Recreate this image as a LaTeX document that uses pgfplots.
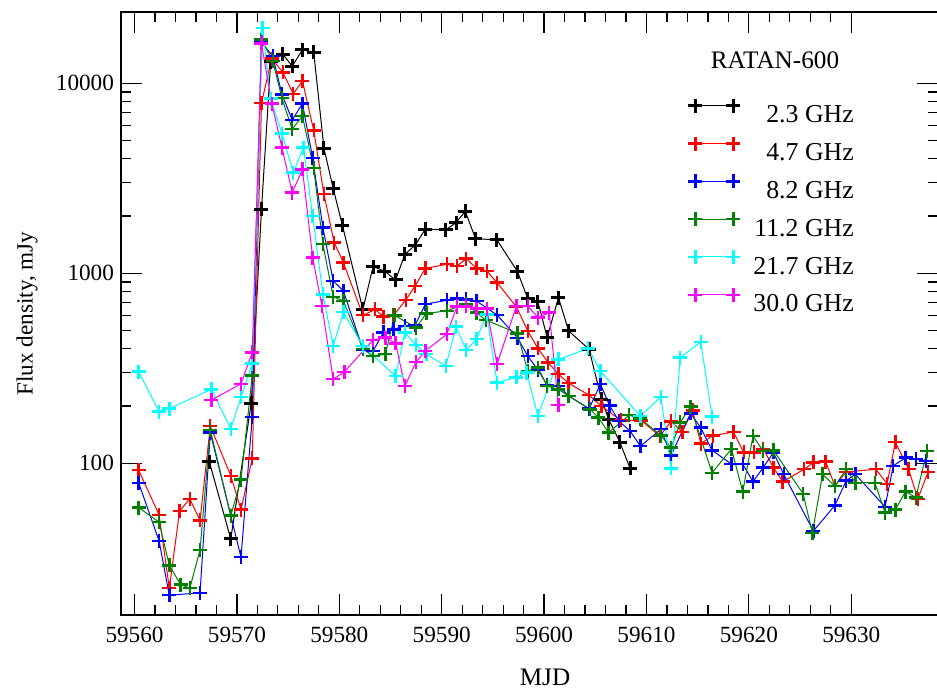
\documentclass[border=0pt]{standalone}
\usepackage{fontspec}
\setmainfont{Liberation Serif}
\usepackage{pgfplots}
\pgfplotsset{compat=1.18}
\definecolor{dgreen}{RGB}{0,128,0}
\definecolor{cyn}{RGB}{0,255,255}
\definecolor{mag}{RGB}{255,0,255}
\newcommand{\ff}{\fontsize{11.6}{14}\selectfont}
\newcommand{\fl}{\fontsize{12.6}{15}\selectfont}
\newcommand{\fg}{\fontsize{12.9}{15}\selectfont}
\begin{document}
\begin{tikzpicture}
\begin{axis}[
  scale only axis,
  width=408.5pt, height=301.5pt,
  xmin=59558.68, xmax=59638.47,
  ymode=log, ymin=15.9, ymax=23730,
  scaled x ticks=false,
  xtick={59560,59570,59580,59590,59600,59610,59620,59630},
  xticklabels={59560,59570,59580,59590,59600,59610,59620,59630},
  minor x tick num=4,
  ytick={100,1000,10000},
  yticklabels={100,1000,10000},
  /pgf/number format/assume math mode=true,
  tick label style={font=\ff},
  xticklabel style={yshift=-2.5pt},
  major tick length=10.5pt,
  minor tick length=5pt,
  axis line style={line width=0.75pt},
  every tick/.style={line width=0.6pt, black},
  xlabel={MJD},
  ylabel={Flux density, mJy},
  xlabel style={font=\fl, at={(axis description cs:0.519,-0.103)}, anchor=center},
  ylabel style={font=\ff, at={(axis description cs:-0.115,0.5)}, anchor=center},
  legend style={draw=none, fill=none, at={(axis description cs:0.6928,0.8632)}, anchor=north west,
    inner sep=0pt, row sep=0pt, font=\fg,
    nodes={inner sep=0pt, text height=14pt, text depth=4.9pt},
    /tikz/every odd column/.append style={column sep=6pt}},
  legend cell align=right,
  legend image code/.code={\path[draw=none,fill=none] (-4pt,0pt) rectangle (23pt,8pt); \draw[#1,overlay] plot coordinates {(0pt,4pt) (19pt,4pt)};},
  every axis plot/.append style={line width=0.5pt, mark=+, mark size=3.5pt, mark options={line width=1.2pt, solid}},
]
\addplot[black, mark options={line width=1.5pt}] coordinates {
(59567.3,102) (59569.4,40) (59571.4,207) (59572.4,2170) (59573.3,13000) (59574.5,14200)
(59575.4,12300) (59576.4,15000) (59577.5,14600) (59578.5,4550) (59579.4,2800) (59580.3,1790)
(59582.3,645) (59583.3,1084) (59584.4,1028) (59585.5,922) (59586.4,1259) (59587.4,1404)
(59588.4,1707) (59590.4,1692) (59591.4,1848) (59592.3,2118) (59593.3,1523) (59595.4,1497)
(59597.4,1021) (59598.4,736) (59599.4,707) (59600.3,460) (59601.4,745) (59602.4,497)
(59604.4,398) (59605.6,217) (59606.3,171) (59607.4,129) (59608.4,94)
};
\addlegendentry{2.3 GHz}
\addplot[red] coordinates {
(59560.4,92) (59562.4,53.5) (59563.4,22) (59564.4,56) (59565.4,65) (59566.4,50) (59567.4,157)
(59569.4,86) (59570.4,57) (59571.5,106) (59572.4,7870) (59573.4,13500) (59574.5,11400)
(59575.5,8800) (59576.4,10300) (59577.5,5650) (59578.5,2610) (59579.5,1451) (59580.4,1138)
(59582.3,601) (59583.5,645) (59584.3,592) (59585.3,601) (59586.5,725) (59587.4,857)
(59588.4,1062) (59590.5,1115) (59591.5,1092) (59592.4,1194) (59593.4,1062) (59594.4,1028)
(59595.4,894) (59597.3,665) (59598.4,497) (59599.4,402) (59600.4,339) (59601.4,294)
(59602.4,264) (59604.4,228) (59605.6,200) (59607.5,168) (59609.5,168) (59611.3,139)
(59612.4,166) (59613.5,146) (59614.5,190) (59615.3,127) (59616.5,140) (59618.5,146)
(59619.5,114) (59620.5,114) (59621.4,119) (59622.4,95) (59623.3,80) (59625.4,93)
(59626.3,101) (59627.5,102) (59628.4,76) (59629.5,90) (59632.4,93) (59633.5,78)
(59634.3,129) (59635.6,93) (59636.5,65) (59637.5,90)
};
\addlegendentry{4.7 GHz}
\addplot[blue] coordinates {
(59560.4,79) (59562.4,39) (59563.4,20.2) (59566.4,20.8) (59567.4,145) (59569.4,53)
(59570.4,32) (59571.5,175) (59572.4,16400) (59573.5,13900) (59574.4,8750) (59575.4,6410)
(59576.4,7820) (59577.4,4030) (59578.4,1738) (59579.4,911) (59580.4,808) (59582.3,398)
(59583.3,390) (59584.3,488) (59585.3,507) (59586.4,528) (59587.4,532) (59588.4,688)
(59590.5,721) (59591.5,736) (59592.4,729) (59593.4,714) (59595.4,604) (59597.4,458)
(59598.4,367) (59599.4,310) (59600.3,258) (59601.4,255) (59602.4,226) (59604.4,194)
(59605.5,261) (59606.4,201) (59607.3,167) (59608.4,148) (59609.4,123) (59611.4,151)
(59612.4,110) (59614.3,183) (59615.3,154) (59616.4,117) (59618.3,99) (59619.4,99)
(59620.4,80) (59621.4,95) (59622.4,114) (59623.4,87.5) (59626.3,44) (59628.4,60)
(59629.5,81) (59630.4,87.5) (59633.3,59) (59634.1,97) (59635.3,107) (59636.3,105) (59637.3,103)
};
\addlegendentry{8.2 GHz}
\addplot[dgreen] coordinates {
(59560.4,58.5) (59562.4,49) (59563.4,29) (59564.5,23) (59565.4,22) (59566.4,35) (59567.4,150)
(59569.4,53) (59570.4,82) (59571.5,290) (59572.4,17000) (59573.5,13100) (59574.4,8340)
(59575.4,5730) (59576.4,6730) (59577.5,3570) (59578.4,1422) (59579.4,752) (59580.4,714)
(59582.3,400) (59583.3,367) (59584.5,375) (59585.4,600) (59587.5,518) (59588.5,615)
(59590.5,634) (59591.5,664) (59592.4,690) (59593.4,621) (59594.3,568) (59597.4,483)
(59598.4,306) (59599.4,319) (59600.3,255) (59601.4,245) (59602.4,226) (59604.5,192)
(59605.3,174) (59606.3,145) (59608.3,179) (59609.4,172) (59611.4,140) (59612.4,121)
(59613.3,164) (59614.3,199) (59616.4,89) (59618.3,119) (59619.4,71) (59620.4,139)
(59621.4,116) (59622.4,117) (59625.3,69) (59626.2,43) (59627.2,87.5) (59628.4,76)
(59629.5,93) (59630.4,79) (59632.3,79) (59633.3,55) (59634.3,57) (59635.3,71) (59636.3,66) (59637.4,116)
};
\addlegendentry{11.2 GHz}
\addplot[cyn] coordinates {
(59560.4,304) (59562.4,187) (59563.4,194) (59567.5,245) (59569.4,152) (59570.4,223)
(59571.5,335) (59572.5,19600) (59573.3,8300) (59574.4,5430) (59575.5,3390) (59576.5,4590)
(59577.4,2000) (59578.4,774) (59579.4,414) (59580.4,624) (59582.3,414) (59585.5,288)
(59586.4,488) (59587.5,418) (59588.5,375) (59590.4,325) (59591.4,524) (59592.4,394)
(59593.4,450) (59594.4,608) (59595.4,266) (59597.3,283) (59598.3,300) (59599.4,177)
(59601.4,352) (59604.3,402) (59605.5,306) (59609.4,177) (59611.4,224) (59612.4,94)
(59613.3,360) (59615.3,435) (59616.4,176)
};
\addlegendentry{21.7 GHz}
\addplot[mag] coordinates {
(59567.5,215) (59570.4,262) (59571.5,383) (59572.4,16200) (59573.4,7820) (59574.4,4590)
(59575.4,2660) (59576.4,3520) (59577.4,1210) (59578.3,673) (59579.4,277) (59580.5,303)
(59583.3,446) (59584.5,459) (59585.5,428) (59586.4,255) (59587.5,341) (59588.4,390)
(59590.5,478) (59591.5,669) (59592.4,669) (59593.4,652) (59594.4,652) (59595.4,332)
(59597.3,673) (59598.4,673) (59599.4,585) (59600.5,621) (59601.4,202)
};
\addlegendentry{30.0 GHz}
\node[font=\fl, anchor=center] at (axis description cs:0.8005,0.9204) {RATAN-600};
\end{axis}
\pgfresetboundingbox
\path ([shift={(-60.5pt,-37pt)}]current axis.south west) rectangle ([shift={(-0.5pt,6pt)}]current axis.north east);
\end{tikzpicture}
\end{document}
